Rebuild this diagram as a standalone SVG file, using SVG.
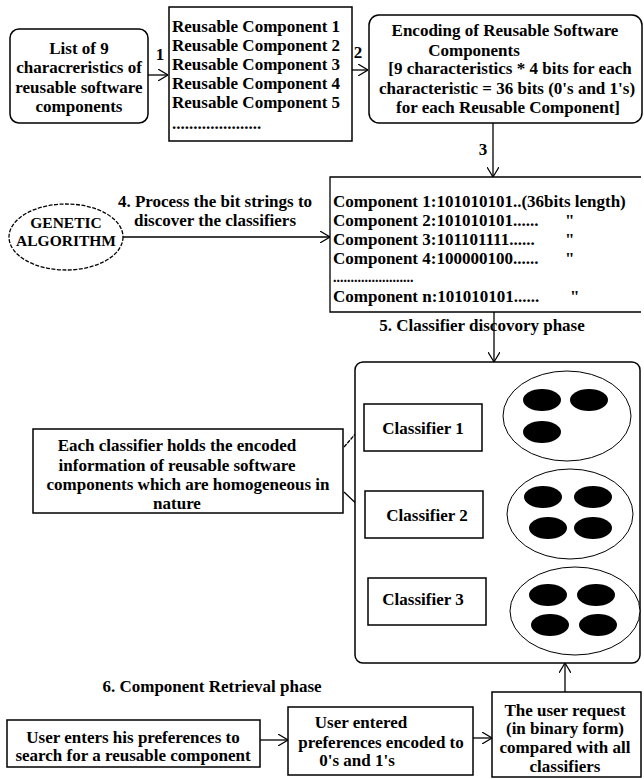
<svg xmlns="http://www.w3.org/2000/svg" width="644" height="779" viewBox="0 0 644 779">
<style>
text{font-family:"Liberation Serif","Times New Roman",serif;font-weight:bold;font-size:17px;fill:#000}
.c{text-anchor:middle}
.box{fill:#fff;stroke:#000;stroke-width:1.5}
.ln{fill:none;stroke:#000;stroke-width:1.3}
.blob{fill:#000}
.ell{fill:#fff;stroke:#000;stroke-width:1}
</style>
<defs>
<marker id="arr" viewBox="0 0 10 12" refX="10" refY="6" markerWidth="10" markerHeight="12" markerUnits="userSpaceOnUse" orient="auto">
<path d="M0,0 L10,6 L0,12" fill="none" stroke="#000" stroke-width="1.2"/>
</marker>
</defs>
<rect width="644" height="779" fill="#fff"/>

<g id="connectors">
<line class="ln" x1="148" y1="75" x2="168" y2="75" marker-end="url(#arr)"/>
<line class="ln" x1="352" y1="70" x2="368" y2="70" marker-end="url(#arr)"/>
<line class="ln" x1="493" y1="123" x2="493" y2="177" marker-end="url(#arr)"/>
<line class="ln" x1="123" y1="237" x2="330" y2="237" marker-end="url(#arr)"/>
<line class="ln" x1="494" y1="312" x2="494" y2="362" marker-end="url(#arr)"/>
<line class="ln" x1="344" y1="447" x2="364" y2="424" stroke-dasharray="4,1"/>
<line class="ln" x1="344" y1="492" x2="365" y2="512"/>
<line class="ln" x1="482" y1="416" x2="503" y2="416"/>
<line class="ln" x1="483" y1="515" x2="507" y2="515"/>
<line class="ln" x1="486" y1="603" x2="511" y2="603"/>
<line class="ln" x1="260" y1="740" x2="288" y2="740" marker-end="url(#arr)"/>
<line class="ln" x1="473" y1="738" x2="492" y2="738" marker-end="url(#arr)"/>
<line class="ln" x1="565" y1="692" x2="565" y2="663" marker-end="url(#arr)"/>
<text class="c" x="160" y="60">1</text>
<text class="c" x="358" y="58">2</text>
<text class="c" x="483" y="155">3</text>
<text class="c" x="215" y="207">4. Process the bit strings to</text>
<text class="c" x="215" y="226">discover the classifiers</text>
<text class="c" x="482" y="331">5. Classifier discovory phase</text>
<text class="c" x="212" y="692">6. Component Retrieval phase</text>
</g>

<g id="characteristics">
<rect class="box" x="10" y="29" width="138" height="94" rx="9"/>
<text class="c" x="79" y="54">List of 9</text>
<text class="c" x="79" y="73">characreristics of</text>
<text class="c" x="79" y="93">reusable software</text>
<text class="c" x="79" y="112">components</text>
</g>

<g id="components-list">
<rect class="box" x="169" y="7" width="183" height="134"/>
<text x="172" y="32">Reusable Component 1</text>
<text x="172" y="51">Reusable Component 2</text>
<text x="172" y="70">Reusable Component 3</text>
<text x="172" y="89">Reusable Component 4</text>
<text x="172" y="108">Reusable Component 5</text>
<text x="172" y="129">.....................</text>
</g>

<g id="encoding">
<rect class="box" x="369" y="15" width="273" height="108" rx="10"/>
<text class="c" x="505" y="36">Encoding of Reusable Software</text>
<text class="c" x="474" y="56">Components</text>
<text class="c" x="510" y="74">[9 characteristics * 4 bits for each</text>
<text class="c" x="507" y="94">characteristic = 36 bits (0's and 1's)</text>
<text class="c" x="508" y="113">for each Reusable Component]</text>
</g>

<g id="genetic-algorithm">
<ellipse cx="66" cy="237" rx="57" ry="33" fill="#fff" stroke="#000" stroke-width="1.3" stroke-dasharray="4,1.5"/>
<text class="c" x="66" y="228" style="font-size:15.5px">GENETIC</text>
<text class="c" x="66" y="246" style="font-size:15.5px">ALGORITHM</text>
</g>

<g id="bit-strings">
<path class="ln" d="M641,177 H330 V312 H641" stroke-width="1.5"/>
<text x="333" y="207">Component 1:101010101..(36bits length)</text>
<text x="333" y="226">Component 2:101010101......</text>
<text x="333" y="245">Component 3:101101111......</text>
<text x="333" y="264">Component 4:100000100......</text>
<text x="333" y="282" style="font-size:14px">.......................</text>
<text x="333" y="302">Component n:101010101......</text>
<text x="565" y="226">"</text>
<text x="565" y="245">"</text>
<text x="565" y="264">"</text>
<text x="570" y="302">"</text>
</g>

<g id="classifier-container">
<rect class="box" x="355" y="362" width="285" height="301" rx="8"/>
</g>

<g id="classifier-1">
<rect class="box" x="364" y="404" width="118" height="47"/>
<text class="c" x="423" y="434">Classifier 1</text>
<ellipse class="ell" cx="567" cy="416" rx="64" ry="45"/>
<ellipse class="blob" cx="542" cy="400" rx="19" ry="11"/>
<ellipse class="blob" cx="589" cy="400" rx="19" ry="11"/>
<ellipse class="blob" cx="542" cy="432" rx="19" ry="11"/>
</g>

<g id="classifier-2">
<rect class="box" x="365" y="491" width="118" height="47"/>
<text class="c" x="427" y="521">Classifier 2</text>
<ellipse class="ell" cx="570" cy="514" rx="63" ry="45"/>
<ellipse class="blob" cx="543" cy="497" rx="19" ry="11"/>
<ellipse class="blob" cx="593" cy="497" rx="19" ry="11"/>
<ellipse class="blob" cx="548" cy="528" rx="19" ry="11"/>
<ellipse class="blob" cx="593" cy="528" rx="19" ry="11"/>
</g>

<g id="classifier-3">
<rect class="box" x="368" y="578" width="118" height="47"/>
<text class="c" x="423" y="605">Classifier 3</text>
<ellipse class="ell" cx="575" cy="611" rx="65" ry="44"/>
<ellipse class="blob" cx="548" cy="595" rx="19" ry="11"/>
<ellipse class="blob" cx="596" cy="595" rx="19" ry="11"/>
<ellipse class="blob" cx="550" cy="625" rx="19" ry="11"/>
<ellipse class="blob" cx="598" cy="625" rx="19" ry="11"/>
</g>

<g id="classifier-note">
<rect class="box" x="33" y="429" width="310" height="84"/>
<text class="c" x="177" y="451">Each classifier holds the encoded</text>
<text class="c" x="177" y="471">information of reusable software</text>
<text class="c" x="188" y="490">components which are homogeneous in</text>
<text class="c" x="177" y="509">nature</text>
</g>

<g id="user-enters">
<rect class="box" x="7" y="720" width="253" height="47"/>
<text class="c" x="133" y="743">User enters his preferences to</text>
<text class="c" x="133" y="761">search for a reusable component</text>
</g>

<g id="user-encoded">
<rect class="box" x="288" y="707" width="185" height="68"/>
<text class="c" x="361" y="728">User entered</text>
<text class="c" x="381" y="748">preferences encoded to</text>
<text class="c" x="357" y="766">0's and 1's</text>
</g>

<g id="user-request">
<rect class="box" x="492" y="692" width="149" height="85"/>
<text class="c" x="565" y="716">The user request</text>
<text class="c" x="565" y="734">(in binary form)</text>
<text class="c" x="565" y="753">compared with all</text>
<text class="c" x="565" y="772">classifiers</text>
</g>
</svg>
